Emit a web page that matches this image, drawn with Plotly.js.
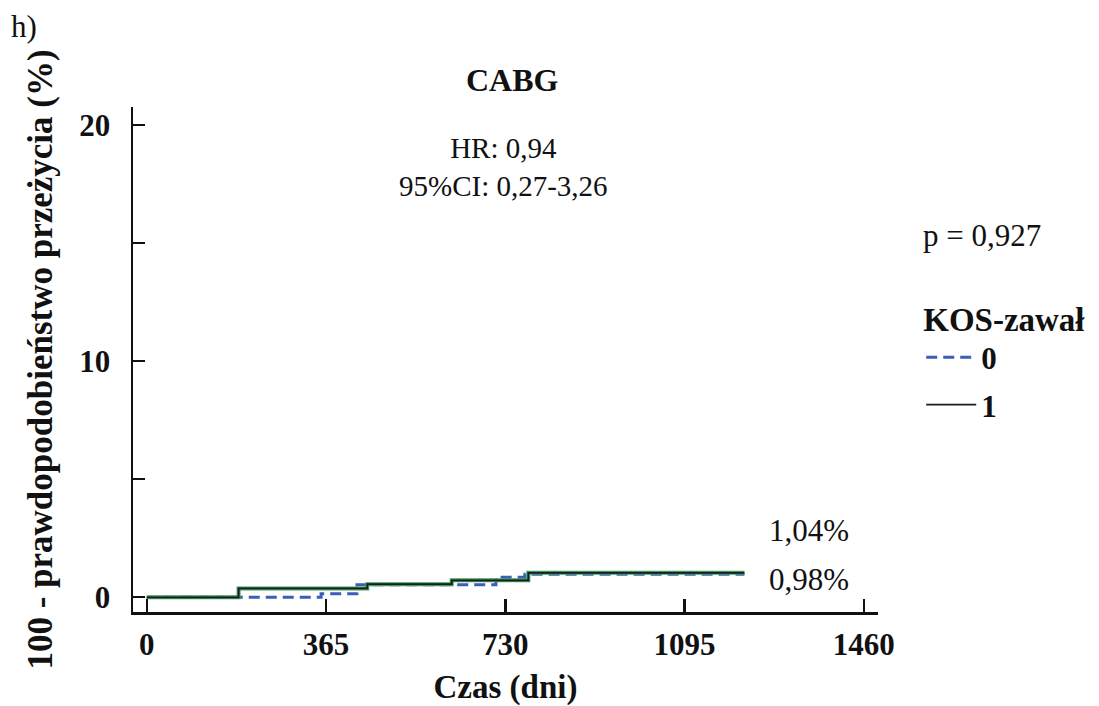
<!DOCTYPE html>
<html>
<head>
<meta charset="utf-8">
<script src="https://cdn.plot.ly/plotly-3.0.1.min.js"></script>
<style>html,body{margin:0;padding:0;background:#fff;}#chart{width:1099px;height:706px;}</style>
</head>
<body>
<div id="chart"></div>
<script>
// Kaplan-Meier style step data (days, 100 - survival %)
const daysGroup0 = [0, 355, 428, 711, 770, 1217];
const valsGroup0 = [0, 0.15, 0.53, 0.85, 0.98, 0.98];
const daysGroup1 = [0, 187, 449, 621, 777, 1217];
const valsGroup1 = [0, 0.38, 0.56, 0.72, 1.04, 1.04];
const xTickVals = [0, 365, 730, 1095, 1460];
const xTickText = ['0', '365', '730', '1095', '1460'];
const yTickVals = [0, 5, 10, 15, 20];
const yTickText = ['0', '', '10', '', '20'];
const finalLabels = ['1,04%', '0,98%'];

const serif = 'Liberation Serif, Times New Roman, serif';

const traces = [
  {x: daysGroup0, y: valsGroup0, mode: 'lines', line: {shape: 'hv', color: '#3b5fb5', width: 3, dash: '11px,6px'}, name: '0', legendgroup: 'g0', showlegend: true},
  {x: daysGroup1, y: valsGroup1, mode: 'lines', line: {shape: 'hv', color: '#3f9a62', width: 4}, legendgroup: 'g1', showlegend: false, hoverinfo: 'skip'},
  {x: daysGroup1, y: valsGroup1, mode: 'lines', line: {shape: 'hv', color: '#1b1b1b', width: 1.8}, name: '1', legendgroup: 'g1', showlegend: true}
];

const layout = {
  width: 1099, height: 706,
  margin: {l: 133, r: 218, t: 107, b: 94},
  paper_bgcolor: '#fff', plot_bgcolor: '#fff',
  font: {family: serif, color: '#111', size: 30},
  xaxis: {
    range: [-28, 1489], showgrid: false, zeroline: false,
    showline: true, linecolor: '#111', linewidth: 2.5,
    ticks: 'inside', ticklen: 13, tickwidth: 2.5, tickcolor: '#111',
    tickvals: xTickVals, ticktext: xTickText,
    tickfont: {family: serif, size: 31, weight: 'bold'},
    ticklabelstandoff: 3,
    title: {text: '<b>Czas (dni)</b>', font: {family: serif, size: 33}, standoff: 16}
  },
  yaxis: {
    range: [-0.62, 20.76], showgrid: false, zeroline: false,
    showline: true, linecolor: '#111', linewidth: 2.5,
    ticks: 'inside', ticklen: 12, tickwidth: 2, tickcolor: '#111',
    tickvals: yTickVals, ticktext: yTickText,
    tickfont: {family: serif, size: 31, weight: 'bold'},
    ticklabelstandoff: 14,
    title: {text: '<b>100 - prawdopodobieństwo przeżycia (%)</b>', font: {family: serif, size: 35}, standoff: 16}
  },
  showlegend: true,
  legend: {
    x: 1.058, xanchor: 'left', y: 0.642, yanchor: 'top',
    traceorder: 'grouped', tracegroupgap: 4,
    title: {text: '<b>KOS-zawał</b>', font: {family: serif, size: 33}, side: 'top'},
    font: {family: serif, size: 31, weight: 'bold'},
    bgcolor: 'rgba(0,0,0,0)', itemwidth: 50
  },
  annotations: [
    {text: '<b>CABG</b>', xref: 'paper', yref: 'paper', x: 0.51, y: 1.0535, xanchor: 'center', yanchor: 'middle', showarrow: false, font: {family: serif, size: 32}},
    {text: 'HR: 0,94<br>95%CI: 0,27-3,26', xref: 'paper', yref: 'paper', x: 0.497, y: 0.881, xanchor: 'center', yanchor: 'middle', showarrow: false, font: {family: serif, size: 29}, align: 'center'},
    {text: 'p = 0,927', xref: 'paper', yref: 'paper', x: 1.058, y: 0.7465, xanchor: 'left', yanchor: 'middle', showarrow: false, font: {family: serif, size: 31}},
    {text: finalLabels[0], xref: 'x', yref: 'y', x: 1349, y: 2.84, xanchor: 'center', yanchor: 'middle', showarrow: false, font: {family: serif, size: 31}},
    {text: finalLabels[1], xref: 'x', yref: 'y', x: 1349, y: 0.76, xanchor: 'center', yanchor: 'middle', showarrow: false, font: {family: serif, size: 31}},
    {text: 'h)', xref: 'paper', yref: 'paper', x: -0.167, y: 1.16, xanchor: 'left', yanchor: 'middle', showarrow: false, font: {family: serif, size: 31}}
  ]
};

Plotly.newPlot('chart', traces, layout, {displayModeBar: false, staticPlot: true});
</script>
</body>
</html>
